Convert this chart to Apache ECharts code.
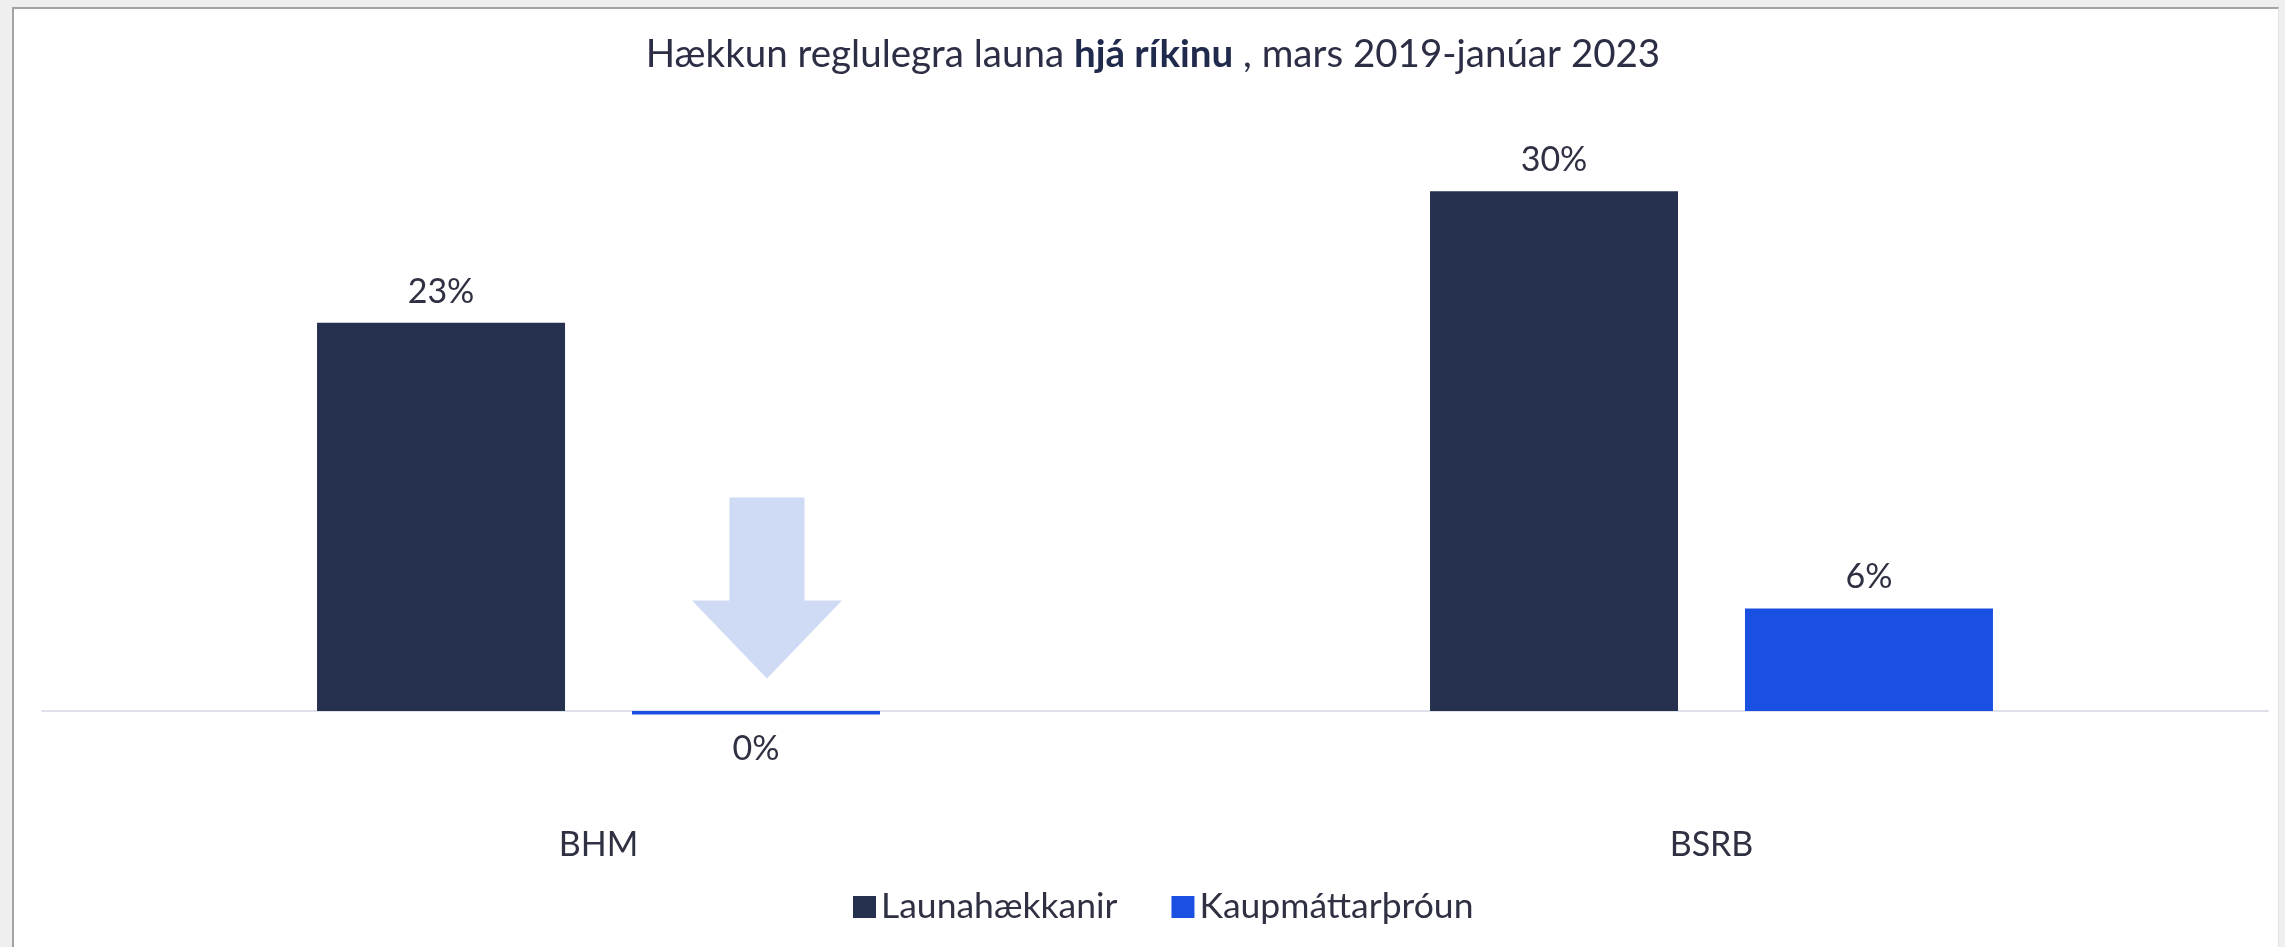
<!DOCTYPE html>
<html lang="is">
<head>
    <meta charset="UTF-8">
    <title>Hækkun reglulegra launa hjá ríkinu</title>
    <script src="https://cdn.jsdelivr.net/npm/echarts@6/dist/echarts.min.js"></script>
    <style>
        html, body { margin: 0; padding: 0; width: 2285px; height: 947px; overflow: hidden; background: #efefef; }
        #frame { position: absolute; left: 12px; top: 7px; width: 2264px; height: 950px; background: #fff;
                 border-left: 2px solid #a3a3a3; border-top: 2px solid #a3a3a3; border-right: 1px solid #e2e2e2; }
        #main { position: absolute; left: 0; top: 0; width: 2285px; height: 947px; }
    </style>
</head>
<body>
<div id="frame"></div>
<div id="main"></div>

<script>
    // gögn
    var categories = ['BHM', 'BSRB'];
    var seriesNames = ['Launahækkanir', 'Kaupmáttarþróun'];
    var launahaekkanir = [22.7, 30.4];
    var kaupmattur = [-0.2, 6.0];
    // ör (skýring) yfir kaupmætti BHM
    var arrowAt = ['BHM', 7.2];

    var textColor = '#2f3142';
    var font = 'Lato, "Noto Sans", sans-serif';

    // neikvæð gildi fá merki fyrir neðan súluna
    function withLabels(values) {
        return values.map(function (v) {
            return { value: v, label: { position: v < 0 ? 'bottom' : 'top', distance: v < 0 ? 18 : 14 } };
        });
    }

    var chart = echarts.init(document.getElementById('main'), null, { renderer: 'canvas' });
    chart.setOption({
        animation: false,
        backgroundColor: 'transparent',
        textStyle: { fontFamily: font },
        title: {
            left: 1148,
            top: 30,
            textAlign: 'center',
            text: '{n|Hækkun reglulegra launa }{b|hjá ríkinu}{n| , mars 2019-janúar 2023}',
            textStyle: {
                fontWeight: 'normal',
                rich: {
                    n: { fontSize: 38.5, color: '#2b2e44', fontWeight: 'normal', fontFamily: font },
                    b: { fontSize: 38.5, color: '#1f2a4c', fontWeight: 'bold', fontFamily: font }
                }
            }
        },
        legend: {
            left: 848,
            top: 884,
            icon: 'rect',
            itemWidth: 23,
            itemHeight: 22,
            itemGap: 54,
            textStyle: { fontSize: 35.5, color: textColor, fontFamily: font },
            data: seriesNames
        },
        grid: {
            left: 42,
            right: 17,
            top: 112.5,
            bottom: 150.5,
            outerBoundsMode: 'none'
        },
        xAxis: {
            type: 'category',
            data: categories,
            axisLine: { onZero: true, lineStyle: { color: '#dfe1ea', width: 2 } },
            axisTick: { show: false },
            axisLabel: { margin: 32, fontSize: 34, color: textColor, fontFamily: font }
        },
        yAxis: {
            type: 'value',
            min: -5,
            max: 35,
            show: false,
            splitLine: { show: false }
        },
        series: [
            {
                name: seriesNames[0],
                type: 'bar',
                barWidth: 248,
                barGap: '27%',
                itemStyle: { color: '#26314f' },
                label: {
                    show: true,
                    fontSize: 34,
                    color: textColor,
                    fontFamily: font,
                    formatter: function (p) { return Math.round(p.value) + '%'; }
                },
                data: withLabels(launahaekkanir)
            },
            {
                name: seriesNames[1],
                type: 'bar',
                barWidth: 248,
                itemStyle: { color: '#1a50e2' },
                label: {
                    show: true,
                    fontSize: 34,
                    color: textColor,
                    fontFamily: font,
                    formatter: function (p) { return Math.round(p.value) + '%'; }
                },
                markPoint: {
                    silent: true,
                    symbol: 'path://M25 0 L75 0 L75 57 L100 57 L50 100 L0 57 L25 57 Z',
                    symbolSize: [150, 181],
                    symbolKeepAspect: false,
                    symbolOffset: [11, 0],
                    itemStyle: { color: '#cfdaf5' },
                    label: { show: false },
                    data: [{ coord: arrowAt }]
                },
                data: withLabels(kaupmattur)
            }
        ]
    });
</script>
</body>
</html>
